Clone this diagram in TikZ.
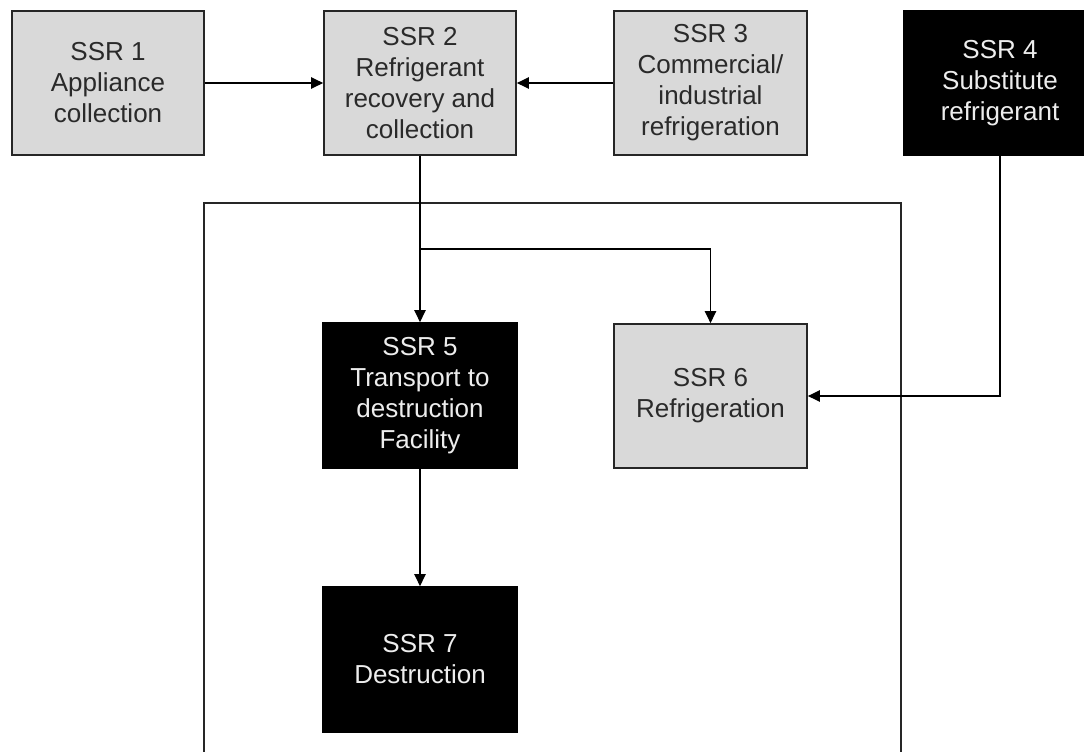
\documentclass[tikz,border=0pt]{standalone}
\usepackage{fontspec}
\setmainfont{Liberation Sans}
\usetikzlibrary{arrows.meta,positioning}
\definecolor{boxgray}{HTML}{D9D9D9}
\definecolor{txtdark}{HTML}{2A2A2A}
\definecolor{txtlight}{HTML}{EDEDED}
\tikzset{
  ssrbox/.style={rectangle, minimum width=144pt, minimum height=108pt, inner sep=0pt,
    align=center, font=\fontsize{19.5pt}{23.25pt}\selectfont},
  graybox/.style={ssrbox, fill=boxgray, draw=black!85, line width=1.3pt, text=txtdark},
  blackbox/.style={ssrbox, fill=black, draw=black, line width=1.3pt, text=txtlight},
  conn/.style={line width=1pt, draw=black},
  arr/.style={conn, -{Triangle[length=9pt,width=8.5pt]}},
  frame/.style={line width=1.2pt, draw=black!85}
}
\begin{document}
\begin{tikzpicture}[x=0.75pt,y=-0.75pt]
\useasboundingbox (0,0) rectangle (1084,751);
\clip (0,0) rectangle (1084,751);
\fill[white] (0,0) rectangle (1084,751);
% enclosing frame (cut off at the bottom)
\coordinate (fbl) at (204,760);
\coordinate (ftl) at (204,203);
\coordinate (ftr) at (901,203);
\coordinate (fbr) at (901,760);
\draw[frame] (fbl) -- (ftl) -- (ftr) -- (fbr);
% nodes
\node[graybox, minimum width=144pt] (s1) at (108,83) {SSR 1\\Appliance\\collection};
\node[graybox] (s2) at (420,83) {SSR 2\\Refrigerant\\recovery and\\collection};
\node[graybox, minimum width=144.75pt] (s3) at (710.5,83) {SSR 3\\Commercial/\\industrial\\refrigeration};
\node[blackbox] (s4) at (1000,83) {SSR 4\\Substitute\\refrigerant};
\node[blackbox, minimum width=145.5pt, minimum height=108.75pt] (s5) at (420,395.5) {SSR 5\\Transport to\\destruction\\Facility};
\node[graybox, minimum width=144.75pt] (s6) at (710.5,396) {SSR 6\\Refrigeration};
\node[blackbox, minimum width=145.5pt, minimum height=108.75pt] (s7) at (420,659.5) {SSR 7\\Destruction};
% connectors
\coordinate (j) at (420,249);
\draw[arr] (s1) -- (s2);
\draw[arr] (s3) -- (s2);
\draw[conn] (s2.south) -- (j);
\draw[arr] (j) -- (s5.north);
\draw[arr] (j) -| (s6.north);
\draw[arr] (s4.south) |- (s6.east);
\draw[arr] (s5) -- (s7);
\end{tikzpicture}
\end{document}
